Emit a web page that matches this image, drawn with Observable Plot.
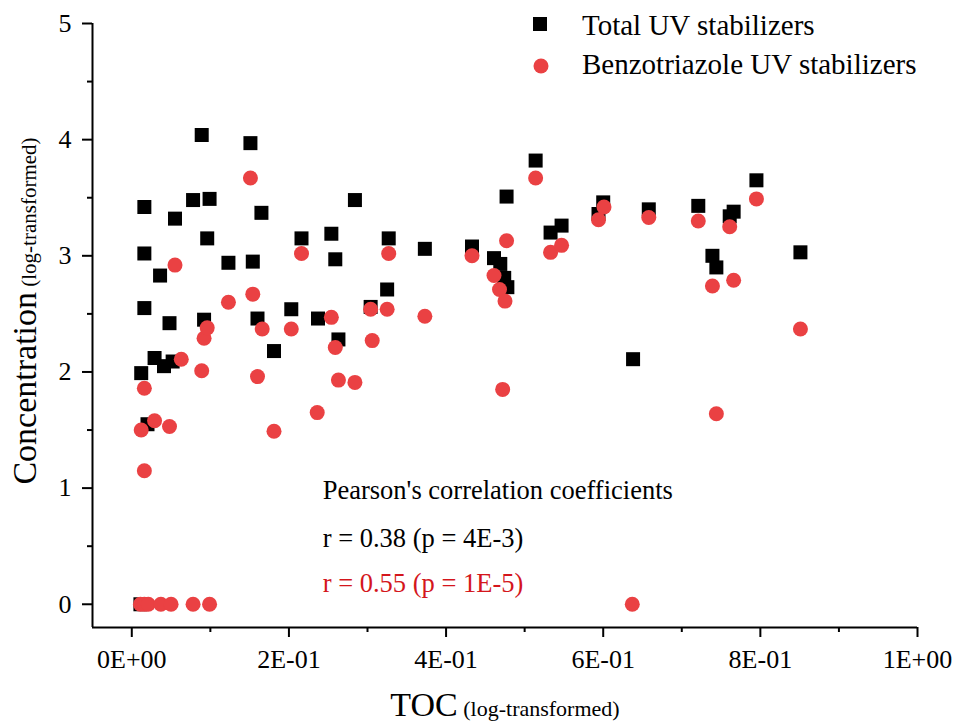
<!DOCTYPE html>
<html>
<head>
<meta charset="utf-8">
<script src="https://cdn.jsdelivr.net/npm/d3@7"></script>
<script src="https://cdn.jsdelivr.net/npm/@observablehq/plot@0.6"></script>
<style>
  body { margin: 0; background: #fff; }
  #chart svg { font-family: "Liberation Serif", "Times New Roman", serif; }
</style>
</head>
<body>
<div id="chart"></div>
<script>
// TOC (log-transformed) and total UV stabilizer concentration (log-transformed)
const totalTOC = [0.011, 0.012, 0.016, 0.016, 0.016, 0.020, 0.029, 0.036, 0.041, 0.048,
  0.052, 0.055, 0.078, 0.089, 0.092, 0.096, 0.099, 0.123, 0.151, 0.154,
  0.160, 0.165, 0.181, 0.203, 0.216, 0.237, 0.254, 0.259, 0.263, 0.284,
  0.304, 0.325, 0.327, 0.373, 0.433, 0.461, 0.469, 0.474, 0.477, 0.478,
  0.514, 0.533, 0.547, 0.594, 0.600, 0.638, 0.658, 0.721, 0.739, 0.744,
  0.761, 0.766, 0.795, 0.851];
const totalConc = [0, 1.99, 3.42, 3.02, 2.55, 1.55, 2.12, 2.83, 2.05, 2.42,
  2.09, 3.32, 3.48, 4.04, 2.45, 3.15, 3.49, 2.94, 3.97, 2.95,
  2.46, 3.37, 2.18, 2.54, 3.15, 2.46, 3.19, 2.97, 2.28, 3.48,
  2.56, 2.71, 3.15, 3.06, 3.08, 2.98, 2.93, 2.81, 3.51, 2.73,
  3.82, 3.20, 3.26, 3.36, 3.46, 2.11, 3.40, 3.43, 3.00, 2.90,
  3.34, 3.38, 3.65, 3.03];

// TOC (log-transformed) and benzotriazole UV stabilizer concentration (log-transformed)
const btzTOC = [0.011, 0.012, 0.016, 0.016, 0.016, 0.021, 0.029, 0.037, 0.048, 0.050,
  0.055, 0.063, 0.078, 0.089, 0.092, 0.096, 0.099, 0.123, 0.151, 0.154,
  0.160, 0.166, 0.181, 0.203, 0.216, 0.236, 0.254, 0.259, 0.263, 0.284,
  0.304, 0.306, 0.325, 0.327, 0.373, 0.433, 0.461, 0.468, 0.472, 0.475,
  0.477, 0.514, 0.533, 0.547, 0.594, 0.601, 0.637, 0.658, 0.721, 0.739,
  0.744, 0.761, 0.766, 0.795, 0.851];
const btzConc = [0, 1.50, 0, 1.86, 1.15, 0, 1.58, 0, 1.53, 0,
  2.92, 2.11, 0, 2.01, 2.29, 2.38, 0, 2.60, 3.67, 2.67,
  1.96, 2.37, 1.49, 2.37, 3.02, 1.65, 2.47, 2.21, 1.93, 1.91,
  2.54, 2.27, 2.54, 3.02, 2.48, 3.00, 2.83, 2.71, 1.85, 2.61,
  3.13, 3.67, 3.03, 3.09, 3.31, 3.42, 0, 3.33, 3.30, 2.74,
  1.64, 3.25, 2.79, 3.49, 2.37];

const seriesNames = ["Total UV stabilizers", "Benzotriazole UV stabilizers"];
const xTicks = [0, 0.2, 0.4, 0.6, 0.8, 1.0];
const xTickLabels = ["0E+00", "2E-01", "4E-01", "6E-01", "8E-01", "1E+00"];
const xMinorTicks = [0.1, 0.3, 0.5, 0.7, 0.9];
const yTicks = [0, 1, 2, 3, 4, 5];
const yTickLabels = ["0", "1", "2", "3", "4", "5"];
const yMinorTicks = [0.5, 1.5, 2.5, 3.5, 4.5];
const statHeader = "Pearson's correlation coefficients";
const statTotal = "r = 0.38 (p = 4E-3)";
const statBtz = "r = 0.55 (p = 1E-5)";

const RED = "#ea4143";
const RED_TEXT = "#d4161c";

const total = totalTOC.map((x, i) => ({x, y: totalConc[i]}));
const btz = btzTOC.map((x, i) => ({x, y: btzConc[i]}));

const chart = Plot.plot({
  width: 955,
  height: 724,
  marginLeft: 92,
  marginRight: 38,
  marginTop: 23,
  marginBottom: 97,
  style: {fontFamily: "Liberation Serif, Times New Roman, serif", fontSize: "26px", background: "white", color: "black"},
  x: {domain: [-0.05, 1.0], label: null},
  y: {domain: [-0.2, 5], label: null},
  marks: [
    // minor ticks
    Plot.axisX(xMinorTicks, {tickSize: 5, strokeWidth: 2, tickFormat: () => "", label: null}),
    Plot.axisY(yMinorTicks, {tickSize: 5, strokeWidth: 2, tickFormat: () => "", label: null}),
    // major ticks with labels
    Plot.axisX(xTicks, {tickSize: 10, tickPadding: 12, strokeWidth: 2, fontSize: 26,
      tickFormat: d => xTickLabels[xTicks.indexOf(d)], label: null}),
    Plot.axisY(yTicks, {tickSize: 10, tickPadding: 11, strokeWidth: 2, fontSize: 26,
      tickFormat: d => yTickLabels[yTicks.indexOf(d)], label: null}),
    // axis lines
    Plot.ruleY([-0.2], {strokeWidth: 2}),
    Plot.ruleX([-0.05], {strokeWidth: 2}),
    // data
    Plot.dot(total, {x: "x", y: "y", symbol: "square", r: 7.9, fill: "black", stroke: null}),
    Plot.dot(btz, {x: "x", y: "y", r: 7.5, fill: RED, stroke: null}),
    // correlation annotation
    Plot.text([statHeader], {x: 0.243, y: 0.98, text: d => d, textAnchor: "start", fontSize: 26.5, fill: "black"}),
    Plot.text([statTotal], {x: 0.243, y: 0.57, text: d => d, textAnchor: "start", fontSize: 26.5, fill: "black"}),
    Plot.text([statBtz], {x: 0.243, y: 0.18, text: d => d, textAnchor: "start", fontSize: 26.5, fill: RED_TEXT})
  ]
});

document.getElementById("chart").appendChild(chart);

// legend and axis titles
const svg = d3.select(chart);
const font = "Liberation Serif, Times New Roman, serif";

svg.append("rect").attr("x", 533).attr("y", 17).attr("width", 14).attr("height", 14).attr("fill", "black");
svg.append("circle").attr("cx", 541).attr("cy", 66).attr("r", 7.5).attr("fill", RED);
svg.append("text").attr("x", 582).attr("y", 35).attr("font-size", 29).attr("font-family", font)
  .attr("text-anchor", "start").attr("fill", "black").text(seriesNames[0]);
svg.append("text").attr("x", 582).attr("y", 74).attr("font-size", 29).attr("font-family", font)
  .attr("text-anchor", "start").attr("fill", "black").text(seriesNames[1]);

const xt = svg.append("text").attr("x", 505).attr("y", 716).attr("text-anchor", "middle")
  .attr("font-family", font).attr("fill", "black");
xt.append("tspan").attr("font-size", 34).text("TOC");
xt.append("tspan").attr("font-size", 22).text(" (log-transformed)");

const yt = svg.append("text").attr("transform", "translate(36,311) rotate(-90)").attr("text-anchor", "middle")
  .attr("font-family", font).attr("fill", "black");
yt.append("tspan").attr("font-size", 34).text("Concentration");
yt.append("tspan").attr("font-size", 21).text(" (log-transformed)");
</script>
</body>
</html>
